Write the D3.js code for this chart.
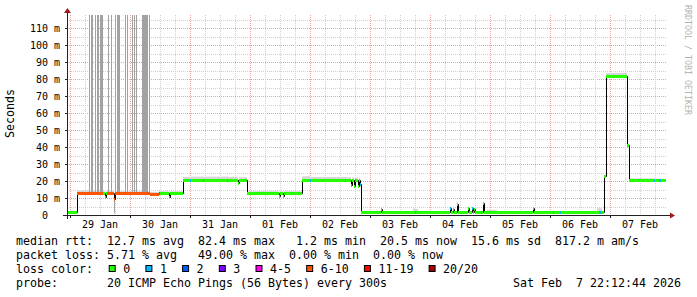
<!DOCTYPE html>
<html><head><meta charset="utf-8">
<script src="https://cdn.jsdelivr.net/npm/d3@7"></script>
<style>
html,body{margin:0;padding:0;background:#fff;}
svg{display:block;}
text{font-family:"DejaVu Sans Mono",monospace;white-space:pre;}
</style></head><body>
<svg id="c" width="697" height="297"></svg>
<script>
// ---- data ----
const segStart = [
"2026-01-28T22:48","2026-01-29T02:48","2026-01-29T13:12","2026-01-29T14:00","2026-01-29T14:24",
"2026-01-29T14:48","2026-01-29T17:36","2026-01-29T18:00","2026-01-30T08:00","2026-01-30T11:36",
"2026-01-30T12:00","2026-01-30T15:36","2026-01-30T16:00","2026-01-30T21:12","2026-01-31T00:00",
"2026-01-31T00:24","2026-01-31T05:12","2026-01-31T05:36","2026-01-31T14:48","2026-01-31T15:12",
"2026-01-31T19:12","2026-01-31T19:36","2026-01-31T22:48","2026-02-01T11:36","2026-02-01T12:00",
"2026-02-01T13:12","2026-02-01T13:36","2026-02-01T20:48","2026-02-02T00:00","2026-02-02T00:24",
"2026-02-02T14:00","2026-02-02T14:24","2026-02-02T16:24","2026-02-02T16:48","2026-02-02T17:36",
"2026-02-02T18:00","2026-02-02T18:24","2026-02-02T19:12","2026-02-02T19:36","2026-02-02T20:00",
"2026-02-02T20:24","2026-02-03T04:24","2026-02-03T04:48","2026-02-03T17:12","2026-02-03T18:00",
"2026-02-03T18:24","2026-02-03T19:12","2026-02-04T08:00","2026-02-04T08:24","2026-02-04T09:12",
"2026-02-04T09:36","2026-02-04T10:48","2026-02-04T11:12","2026-02-04T15:12","2026-02-04T15:36",
"2026-02-04T16:48","2026-02-04T17:12","2026-02-04T17:36","2026-02-04T18:00","2026-02-04T20:24",
"2026-02-04T20:48","2026-02-04T21:12","2026-02-04T21:36","2026-02-04T22:48","2026-02-05T02:48",
"2026-02-05T17:12","2026-02-05T17:36","2026-02-06T01:12","2026-02-06T01:36","2026-02-06T04:00",
"2026-02-06T04:24","2026-02-06T18:48","2026-02-06T19:36","2026-02-06T20:48","2026-02-06T21:36",
"2026-02-06T22:24","2026-02-07T06:48","2026-02-07T07:36","2026-02-07T17:36","2026-02-07T18:00",
"2026-02-07T19:36","2026-02-07T20:24"
];
const medianMs = [
1.5,12.8,12.9,10.8,12.9,
12.8,9.6,12.8,12.6,12.9,
12.9,10.8,12.9,20.6,20.6,
20.6,20.6,20.6,20.6,20.6,
19.0,20.6,13.1,11.0,13.1,
11.0,13.1,20.8,20.8,20.8,
20.8,20.8,17.5,20.8,17.0,
20.8,20.8,17.0,20.8,18.0,
1.6,3.4,1.6,1.6,1.6,
1.6,1.6,3.9,1.6,3.5,
1.6,6.5,1.6,3.9,1.6,
3.9,1.6,3.5,1.6,1.6,
1.6,6.9,1.6,1.6,1.6,
3.9,1.6,1.6,1.6,1.6,
1.6,1.6,1.6,1.6,22.8,
81.8,41.0,20.5,20.5,20.5,
20.5,20.5
];
const lossPings = [
0,7,0,0,0,
7,7,7,7,4,
0,0,0,0,1,
0,1,0,1,0,
0,0,0,0,0,
0,0,0,1,0,
1,0,1,0,0,
1,0,0,0,1,
0,0,0,0,1,
0,0,1,0,0,
0,0,0,0,0,
1,0,0,0,1,
0,0,0,0,0,
0,0,1,0,1,
0,0,1,0,0,
0,0,0,1,0,
1,0
];
const smokeTopMs = [
2.4,14.4,14.0,12.5,14.0,
14.2,11.5,14.0,13.6,14.0,
14.0,12.5,14.0,22.4,22.4,
22.6,22.4,22.6,22.8,22.4,
20.8,22.2,14.0,12.4,14.0,
12.4,14.0,22.8,22.6,22.4,
22.4,22.2,19.0,22.0,18.6,
22.0,22.0,18.6,22.0,20.0,
2.4,4.0,2.2,3.8,3.8,
3.6,2.2,4.5,2.2,4.2,
2.2,7.2,2.2,4.5,2.2,
4.5,2.2,4.2,2.2,2.4,
2.2,7.5,2.2,3.0,2.2,
4.5,2.2,2.4,2.2,2.4,
2.2,4.0,4.0,2.4,23.5,
83.6,42.0,21.6,21.4,21.4,
21.4,21.4
];
const dataEnd = "2026-02-07T22:12:44";

// tall smoke bars (ping spread beyond the top of the graph)
const spikeStart = ["2026-01-29T07:36","2026-01-29T08:24","2026-01-29T10:00","2026-01-29T10:48","2026-01-29T12:00",
  "2026-01-29T15:12","2026-01-29T16:24","2026-01-29T18:00","2026-01-29T18:48","2026-01-29T22:00",
  "2026-01-29T22:48","2026-01-30T00:48","2026-01-30T01:36","2026-01-30T02:24","2026-01-30T04:48","2026-01-30T07:36"];
const spikeEnd = ["2026-01-29T08:00","2026-01-29T09:12","2026-01-29T10:24","2026-01-29T11:36","2026-01-29T13:12",
  "2026-01-29T15:36","2026-01-29T16:48","2026-01-29T18:24","2026-01-29T20:00","2026-01-29T22:24",
  "2026-01-29T23:12","2026-01-30T01:12","2026-01-30T02:00","2026-01-30T02:48","2026-01-30T07:12","2026-01-30T08:00"];
const spikeTopMs = [150,150,150,150,150,150,150,150,150,150,150,150,150,150,150,150];
// smoke reaching below the median
const lowSmokeStart = ["2026-01-29T17:36"];
const lowSmokeEnd = ["2026-01-29T18:00"];
const lowSmokeMs = [1.0];

const yTickValues = [0,10,20,30,40,50,60,70,80,90,100,110];
const xTickDays = ["2026-01-29","2026-01-30","2026-01-31","2026-02-01","2026-02-02",
  "2026-02-03","2026-02-04","2026-02-05","2026-02-06","2026-02-07"];
const lossLabels = ["0","1","2","3","4-5","6-10","11-19","20/20"];
const lossColors = ["#26ff00","#00b8ff","#0059ff","#7e00ff","#ff00ea","#ff5500","#ff0000","#a00000"];
const lossUpper = [0,1,2,3,5,10,19,20];

const statRtt = "median rtt:  12.7 ms avg  82.4 ms max   1.2 ms min  20.5 ms now  15.6 ms sd  817.2 m am/s";
const statLoss = "packet loss: 5.71 % avg   49.00 % max  0.00 % min  0.00 % now";
const lossTitle = "loss color:";
const probeText = "probe:       20 ICMP Echo Pings (56 Bytes) every 300s";
const stampText = "Sat Feb  7 22:12:44 2026";
const yTitle = "Seconds";
const watermark = "RRDTOOL / TOBI OETIKER";

// ---- layout ----
const W = 697, H = 297;
const L = 67, R = 667, T = 15, B = 215;
const yMaxMs = 117.65;
const parse = s => new Date(s);
const x = d3.scaleTime().domain([parse("2026-01-28T22:48"), parse("2026-02-07T22:48")]).range([L, R]);
const y = d3.scaleLinear().domain([0, yMaxMs]).range([B, T]);
const crisp = v => Math.round(v) + 0.5;
const colorOf = n => lossColors[lossUpper.findIndex(u => n <= u)];

const svg = d3.select("#c");
svg.append("rect").attr("width", W).attr("height", H).attr("fill", "#fff");

// grid
const grid = svg.append("g");
for (let v = 5; v <= yMaxMs; v += 5) {
  const major = v % 10 === 0;
  grid.append("line").attr("x1", L).attr("x2", R).attr("y1", crisp(y(v))).attr("y2", crisp(y(v)))
    .attr("stroke", major ? "#e8a0a0" : "#cfcfcf").attr("stroke-dasharray", "1,1");
}
const hours = d3.timeHour.every(6).range(x.domain()[0], x.domain()[1]);
hours.forEach(h => {
  const major = h.getHours() === 0;
  grid.append("line").attr("x1", crisp(x(h))).attr("x2", crisp(x(h))).attr("y1", T).attr("y2", B)
    .attr("stroke", major ? "#e8a0a0" : "#cfcfcf").attr("stroke-dasharray", "1,1");
});

// data
svg.append("clipPath").attr("id", "plot").append("rect").attr("x", L).attr("y", T).attr("width", R - L).attr("height", B - T);
const g = svg.append("g").attr("clip-path", "url(#plot)");
const segs = segStart.map((s, i) => ({
  t0: parse(s), t1: parse(i + 1 < segStart.length ? segStart[i + 1] : dataEnd),
  m: medianMs[i], loss: lossPings[i], top: smokeTopMs[i]
}));
const medAt = t => { const s = segs.find(d => d.t0 <= t && t < d.t1); return s ? s.m : 0; };

g.selectAll("rect.smoke").data(segs).join("rect").attr("class", "smoke")
  .attr("x", d => x(d.t0)).attr("width", d => x(d.t1) - x(d.t0))
  .attr("y", d => y(d.top)).attr("height", d => Math.max(0, y(d.m) - y(d.top)))
  .attr("fill", "#d6d6d6");

g.selectAll("rect.spike").data(spikeStart.map((s, i) => ({t0: parse(s), t1: parse(spikeEnd[i]), top: spikeTopMs[i]})))
  .join("rect").attr("class", "spike")
  .attr("x", d => x(d.t0)).attr("width", d => x(d.t1) - x(d.t0))
  .attr("y", d => y(d.top)).attr("height", d => y(medAt(d.t0)) - y(d.top))
  .attr("fill", "#a2a2a2");

g.selectAll("rect.low").data(lowSmokeStart.map((s, i) => ({t0: parse(s), t1: parse(lowSmokeEnd[i]), lo: lowSmokeMs[i]})))
  .join("rect").attr("class", "low")
  .attr("x", d => x(d.t0)).attr("width", d => x(d.t1) - x(d.t0))
  .attr("y", d => y(medAt(d.t0))).attr("height", d => y(d.lo) - y(medAt(d.t0)))
  .attr("fill", "#a2a2a2");

const pts = segs.map(d => [crisp(x(d.t0)), crisp(y(d.m))]);
pts.push([x(segs[segs.length - 1].t1), crisp(y(segs[segs.length - 1].m))]);
g.append("path").attr("d", d3.line().curve(d3.curveStepAfter)(pts))
  .attr("fill", "none").attr("stroke", "#000").attr("stroke-width", 1);

g.selectAll("rect.band").data(segs).join("rect").attr("class", "band")
  .attr("x", d => x(d.t0)).attr("width", d => x(d.t1) - x(d.t0))
  .attr("y", d => Math.round(y(d.m)) - 1).attr("height", 3)
  .attr("fill", d => colorOf(d.loss));

// axes
const axisCol = "#222";
svg.append("line").attr("x1", 63).attr("x2", 671).attr("y1", B + 0.5).attr("y2", B + 0.5).attr("stroke", axisCol);
svg.append("line").attr("x1", L + 0.5).attr("x2", L + 0.5).attr("y1", 12).attr("y2", B + 4).attr("stroke", axisCol);
svg.append("path").attr("d", `M${L - 3},13 L${L + 4},13 L${L + 0.5},8 Z`).attr("fill", "#a01818");
svg.append("path").attr("d", `M670,212.5 L670,218.5 L675,215.5 Z`).attr("fill", "#a01818");
yTickValues.forEach(v => {
  if (v > 0) svg.append("line").attr("x1", L - 2).attr("x2", L).attr("y1", crisp(y(v))).attr("y2", crisp(y(v))).attr("stroke", axisCol);
});
xTickDays.forEach(d => {
  svg.append("line").attr("x1", crisp(x(parse(d + "T00:00")))).attr("x2", crisp(x(parse(d + "T00:00"))))
    .attr("y1", B).attr("y2", B + 3).attr("stroke", axisCol);
});

// tick labels
svg.selectAll("text.yl").data(yTickValues).join("text").attr("class", "yl")
  .attr("x", 60).attr("y", v => crisp(y(v)) + 3.5).attr("text-anchor", "end")
  .attr("font-size", "10px").attr("fill", "#000")
  .text(v => v === 0 ? "0  " : v + " m");
const fmt = d3.timeFormat("%d %b");
svg.selectAll("text.xl").data(xTickDays).join("text").attr("class", "xl")
  .attr("x", d => x(parse(d + "T12:00"))).attr("y", 228).attr("text-anchor", "middle")
  .attr("font-size", "10px").attr("fill", "#000")
  .text(d => fmt(parse(d + "T12:00")));

// titles
svg.append("text").attr("transform", "translate(14,113.5) rotate(-90)").attr("text-anchor", "middle")
  .attr("font-size", "11.6px").attr("fill", "#000").text(yTitle);
svg.append("text").attr("transform", "translate(685,5) rotate(90)").attr("text-anchor", "start")
  .attr("font-size", "8.3px").attr("fill", "#b4b4b4").text(watermark);

// legend
const LX = 16, FS = "11.63px", CW = 7;
const lines = [[statRtt, 244.5], [statLoss, 258.5], [lossTitle, 272.5], [probeText, 286.5]];
lines.forEach(([t, yy]) => svg.append("text").attr("x", LX).attr("y", yy).attr("font-size", FS).attr("fill", "#000").text(t));
svg.append("text").attr("x", LX + 71 * CW).attr("y", 286.5).attr("font-size", FS).attr("fill", "#000").text(stampText);
let bx = LX + 12 * CW + 8.7;
lossLabels.forEach((lab, i) => {
  svg.append("rect").attr("x", bx + 0.5).attr("y", 265.5).attr("width", 6).attr("height", 6)
    .attr("fill", lossColors[i]).attr("stroke", "#000").attr("stroke-width", 1);
  const tx = bx + 14.5;
  svg.append("text").attr("x", tx).attr("y", 272.5).attr("font-size", FS).attr("fill", "#000").text(lab);
  bx = tx + lab.length * CW + 15.2;
});
</script>
</body></html>
